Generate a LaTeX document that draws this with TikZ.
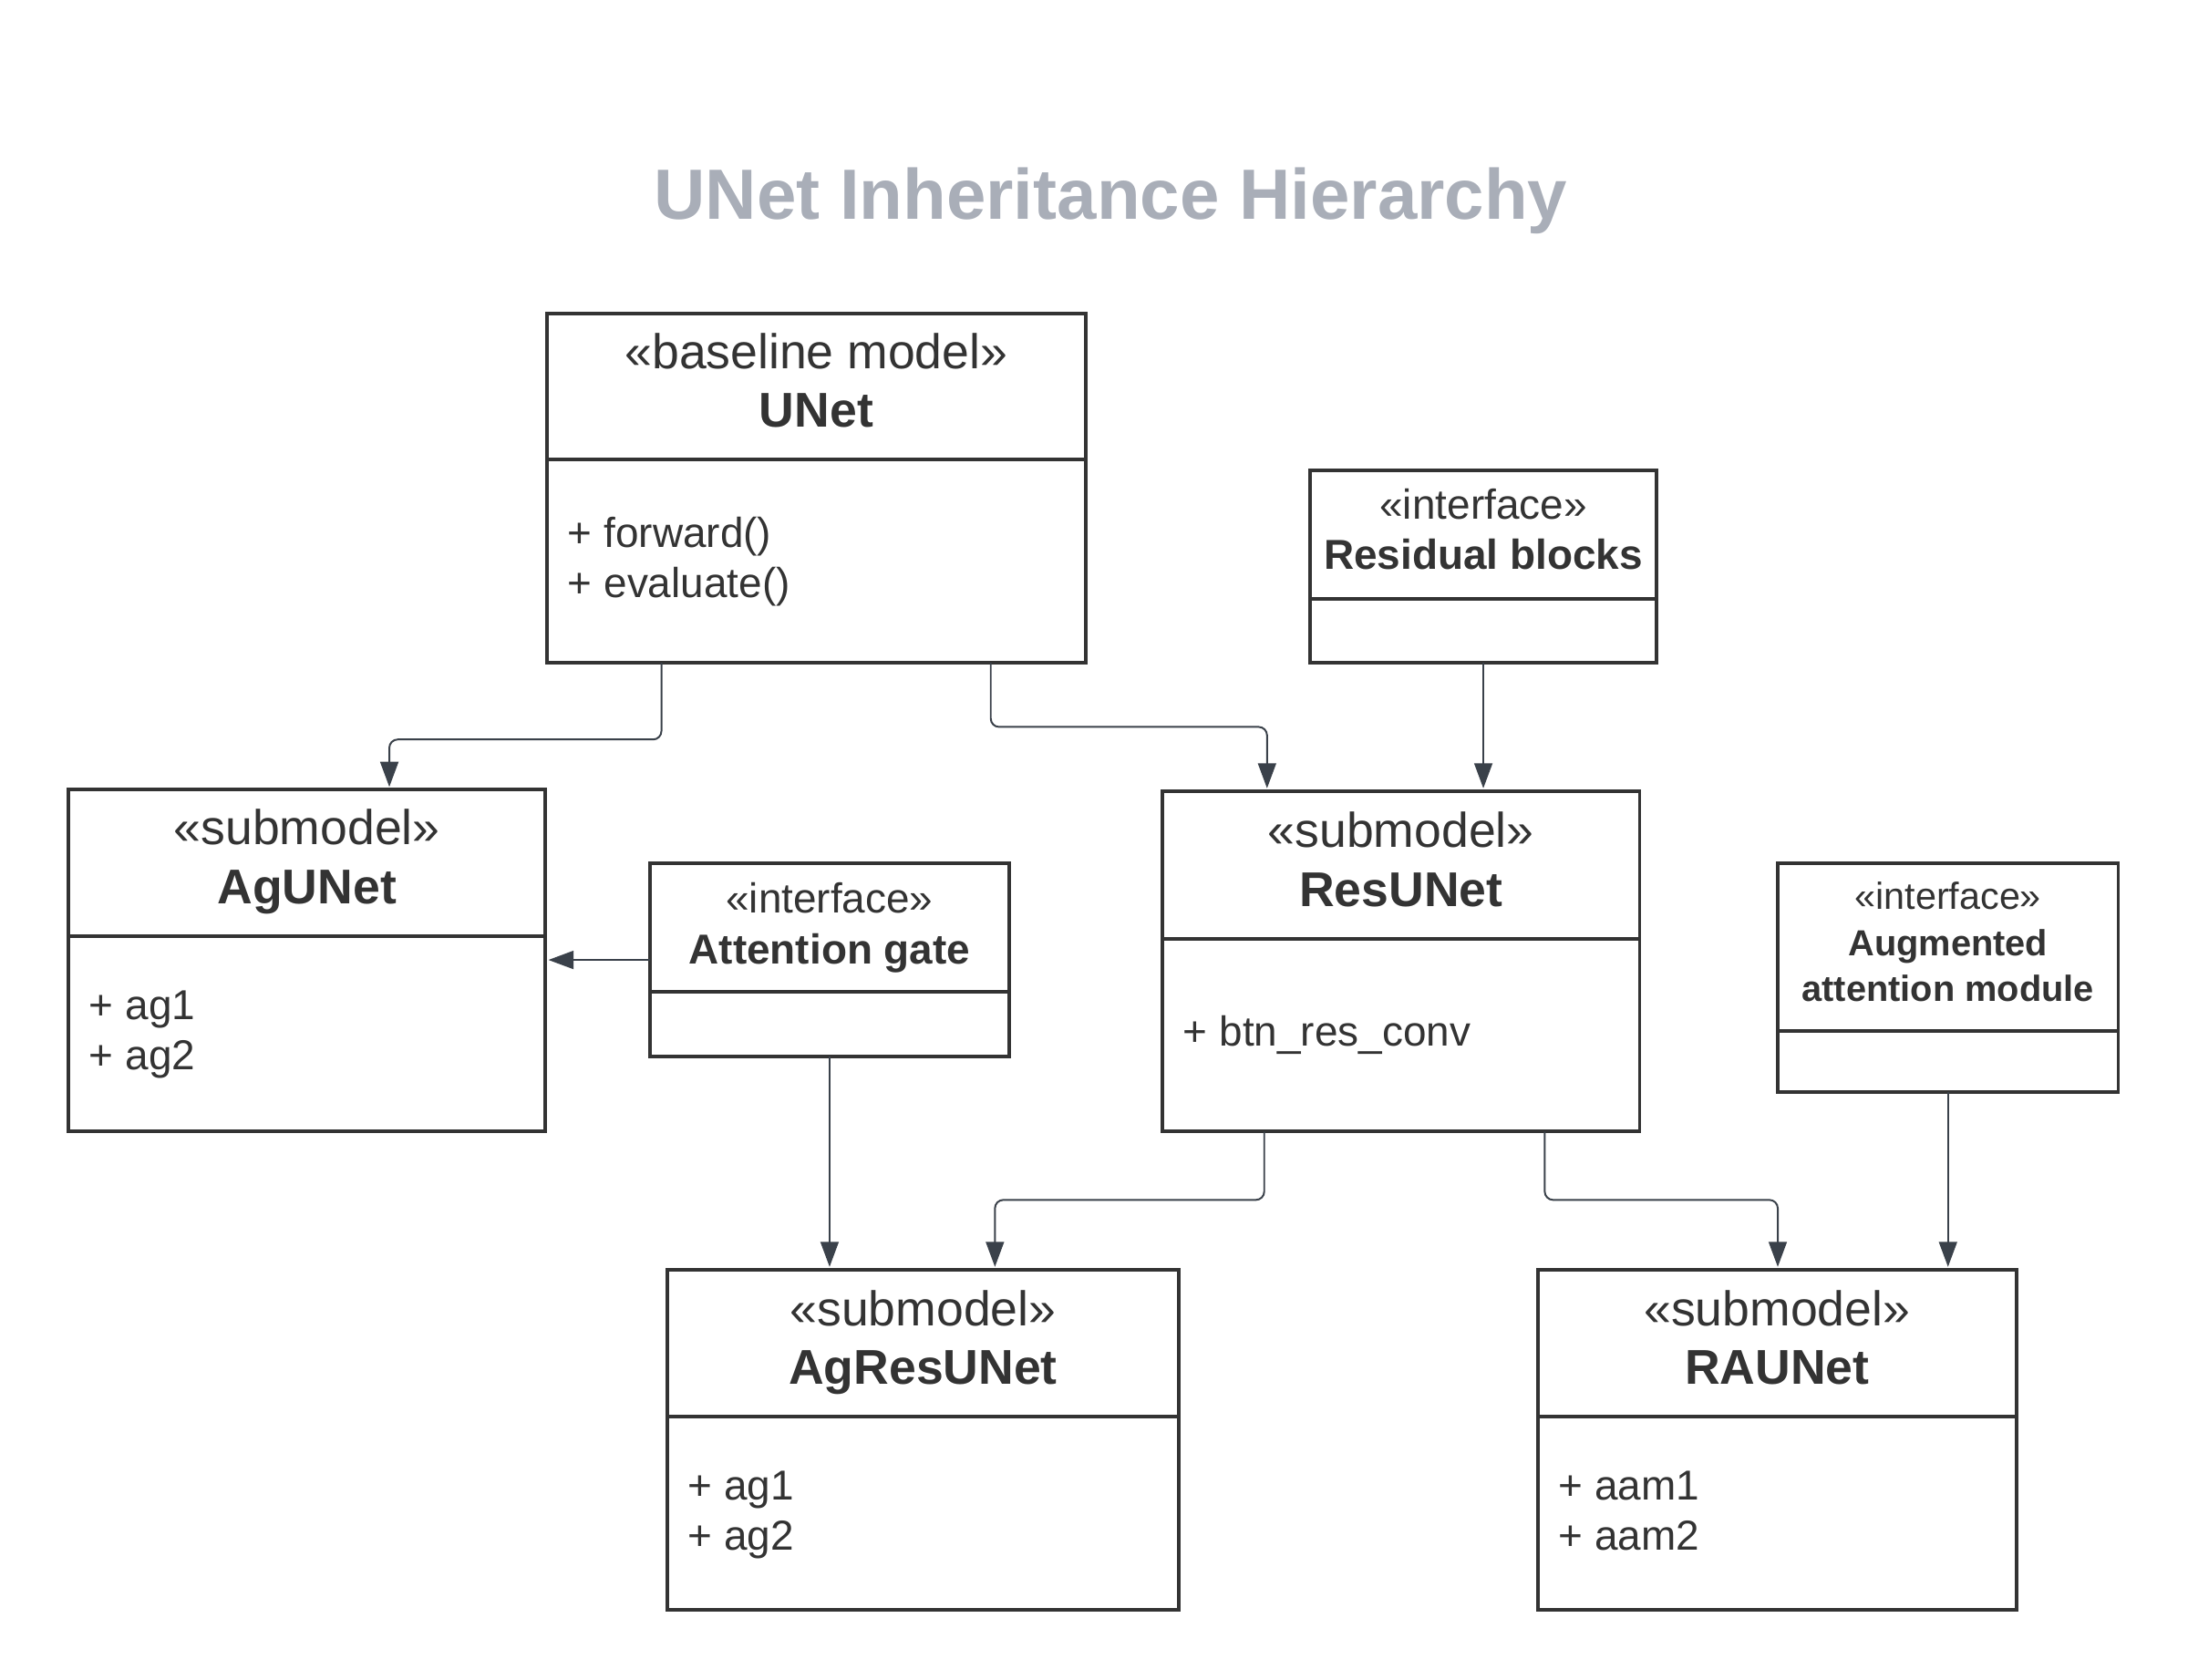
\documentclass[tikz,border=0pt]{standalone}
\usepackage{fontspec}
\setmainfont{Liberation Sans}
\usepackage{tikz}
\usetikzlibrary{arrows.meta}
\definecolor{boxcol}{HTML}{333333}
\definecolor{linkcol}{HTML}{3A414A}
\definecolor{titlecol}{HTML}{A9AEB8}
\begin{document}
\begin{tikzpicture}[x=1pt,y=-1pt]
	\tikzstyle{every node}=[inner sep=0pt, outer sep=0pt, text=boxcol]
	\tikzstyle{umlbox}=[draw=boxcol, line width=2.6pt, fill=white, anchor=north west, rectangle]
	\tikzstyle{divider}=[draw=boxcol, line width=2.6pt]
	\tikzstyle{stereo}=[anchor=base, font=\fontsize{35}{42}\selectfont]
	\tikzstyle{clsname}=[anchor=base, font=\fontsize{35}{42}\selectfont\bfseries]
	\tikzstyle{attrib}=[anchor=base west, font=\fontsize{30}{36}\selectfont]
	\tikzstyle{istereo}=[anchor=base, font=\fontsize{30}{36}\selectfont]
	\tikzstyle{iname}=[anchor=base, font=\fontsize{30}{36}\selectfont\bfseries]
	\tikzstyle{inherit}=[draw=linkcol, line width=1.3pt, rounded corners=6pt, -{Triangle[length=18pt,width=13pt]}, shorten >=2pt]

	\useasboundingbox (0,0) rectangle (1568,1204);

	%%title
	\node [anchor=base, text=titlecol, font=\fontsize{51}{61}\selectfont\bfseries] (title) at (796,157) {UNet Inheritance Hierarchy};

	%%boxes
	\node [umlbox, minimum width=386, minimum height=250] (unet) at (392,225) {};
	\draw [divider] (unet.west |- 0,329) -- (unet.east |- 0,329);
	\node [stereo] (unet-stereo) at (585,264) {«baseline model»};
	\node [clsname] (unet-name) at (585,306) {UNet};
	\node [attrib] (unet-attr1) at (407,392) {+ forward()};
	\node [attrib] (unet-attr2) at (407,428) {+ evaluate()};

	\node [umlbox, minimum width=248, minimum height=138] (resblk) at (939,337) {};
	\draw [divider] (resblk.west |- 0,429) -- (resblk.east |- 0,429);
	\node [istereo] (resblk-stereo) at (1063,372) {«interface»};
	\node [iname] (resblk-name) at (1063,408) {Residual blocks};

	\node [umlbox, minimum width=342, minimum height=245] (agunet) at (49,566) {};
	\draw [divider] (agunet.west |- 0,671) -- (agunet.east |- 0,671);
	\node [stereo] (agunet-stereo) at (220,605) {«submodel»};
	\node [clsname] (agunet-name) at (220,648) {AgUNet};
	\node [attrib] (agunet-attr1) at (64,731) {+ ag1};
	\node [attrib] (agunet-attr2) at (64,767) {+ ag2};

	\node [umlbox, minimum width=257, minimum height=138] (attgate) at (466,619) {};
	\draw [divider] (attgate.west |- 0,711) -- (attgate.east |- 0,711);
	\node [istereo] (attgate-stereo) at (594.5,654) {«interface»};
	\node [iname] (attgate-name) at (594.5,691) {Attention gate};

	\node [umlbox, minimum width=342, minimum height=244] (resunet) at (833,567) {};
	\draw [divider] (resunet.west |- 0,673) -- (resunet.east |- 0,673);
	\node [stereo] (resunet-stereo) at (1004,607) {«submodel»};
	\node [clsname] (resunet-name) at (1004,650) {ResUNet};
	\node [attrib] (resunet-attr1) at (848,750) {+ btn\_res\_conv};

	\node [umlbox, minimum width=244, minimum height=164] (augatt) at (1274,619) {};
	\draw [divider] (augatt.west |- 0,739) -- (augatt.east |- 0,739);
	\node [anchor=base, font=\fontsize{27}{32}\selectfont] (augatt-stereo) at (1396,652) {«interface»};
	\node [anchor=base, font=\fontsize{26}{33}\selectfont\bfseries] (augatt-name) at (1396,685) {Augmented};
	\node [anchor=base, font=\fontsize{26}{33}\selectfont\bfseries] (augatt-name2) at (1396,718) {attention module};

	\node [umlbox, minimum width=367, minimum height=244] (agresunet) at (478,910) {};
	\draw [divider] (agresunet.west |- 0,1015) -- (agresunet.east |- 0,1015);
	\node [stereo] (agresunet-stereo) at (661.5,950) {«submodel»};
	\node [clsname] (agresunet-name) at (661.5,992) {AgResUNet};
	\node [attrib] (agresunet-attr1) at (493,1075) {+ ag1};
	\node [attrib] (agresunet-attr2) at (493,1111) {+ ag2};

	\node [umlbox, minimum width=343, minimum height=244] (raunet) at (1102,910) {};
	\draw [divider] (raunet.west |- 0,1015) -- (raunet.east |- 0,1015);
	\node [stereo] (raunet-stereo) at (1273.5,950) {«submodel»};
	\node [clsname] (raunet-name) at (1273.5,992) {RAUNet};
	\node [attrib] (raunet-attr1) at (1117,1075) {+ aam1};
	\node [attrib] (raunet-attr2) at (1117,1111) {+ aam2};

	%%inheritance links
	\draw [inherit] (unet.south -| 474,0) -- (474,530) -- (279,530) -- (agunet.north -| 279,0);
	\draw [inherit] (unet.south -| 710,0) -- (710,521) -- (908,521) -- (resunet.north -| 908,0);
	\draw [inherit] (resblk.south) -- (resunet.north -| resblk.south);
	\draw [inherit] (attgate.west |- 0,688) -- (agunet.east |- 0,688);
	\draw [inherit] (attgate.south) -- (agresunet.north -| attgate.south);
	\draw [inherit] (resunet.south -| 906,0) -- (906,860) -- (713,860) -- (agresunet.north -| 713,0);
	\draw [inherit] (resunet.south -| 1107,0) -- (1107,860) -- (1274,860) -- (raunet.north -| 1274,0);
	\draw [inherit] (augatt.south) -- (raunet.north -| augatt.south);

\end{tikzpicture}
\end{document}
